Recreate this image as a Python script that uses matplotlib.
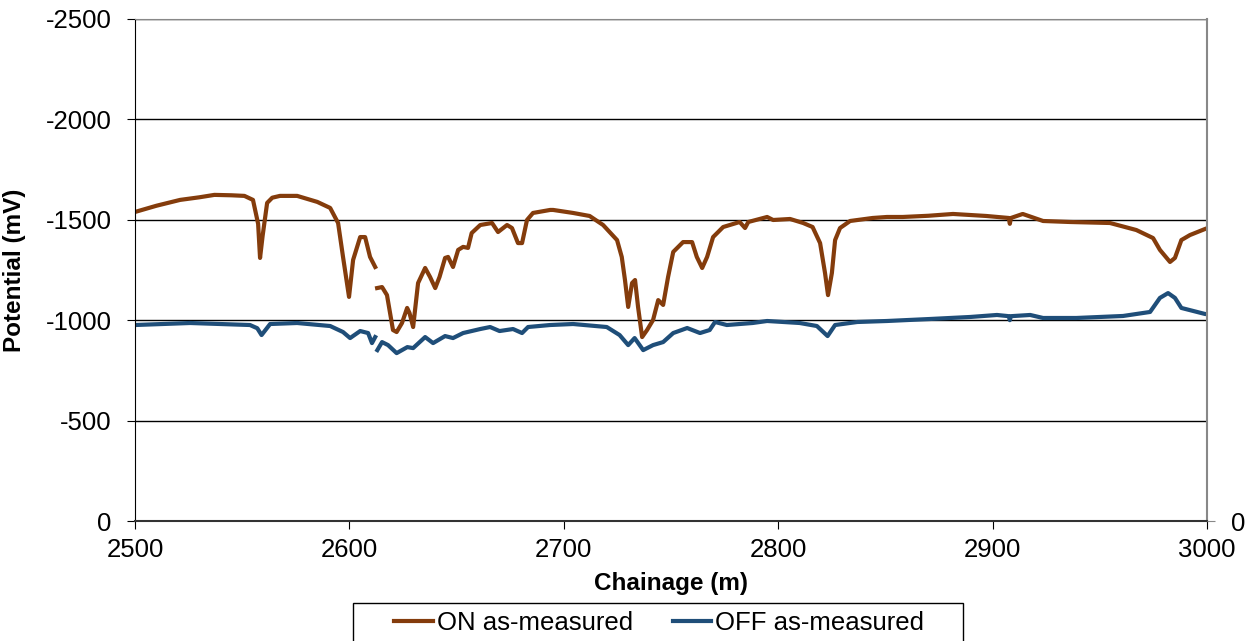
import numpy as np
import matplotlib.pyplot as plt
from matplotlib.patches import Rectangle

plt.rcParams['font.family'] = ['Liberation Sans', 'DejaVu Sans']
plt.rcParams['axes.unicode_minus'] = False

# ON as-measured (chainage m, potential mV); NaN marks the data gap
on_x = [2500, 2510, 2521, 2530, 2537, 2545, 2551, 2555, 2557.4, 2558.3, 2559.5, 2561.6, 2564,
        2567.6, 2575.6, 2585, 2591, 2594.7, 2597, 2599.8, 2601.7, 2605, 2607.3, 2609.6, 2612,
        2612.4,
        2612.9, 2615.2, 2617.5, 2620.3, 2622, 2624.5, 2626.9, 2628, 2629.7, 2632, 2635.3, 2637.6,
        2640, 2642, 2644.6, 2646, 2648.3, 2650.7, 2653, 2655.3, 2657, 2661, 2666.5, 2669.3,
        2673.5, 2675.8, 2678.6, 2680.5, 2682.8, 2685.6, 2693.6, 2695, 2704.3, 2712, 2718.3,
        2724.8, 2727, 2728.5, 2730, 2731.8, 2733.2, 2734.6, 2736.5, 2738.8, 2741.6, 2744,
        2746.3, 2748.6, 2751, 2755.6, 2759.8, 2762, 2764.5, 2766.8, 2769.6, 2774.3, 2782,
        2784.5, 2786, 2794.8, 2797.6, 2805.5, 2811.6, 2816, 2819.5, 2821.8, 2823.2, 2825,
        2826.5, 2828.8, 2833.5, 2844, 2850.7, 2858, 2870, 2881.5, 2897, 2907.5, 2908, 2908.5,
        2914, 2923.5, 2936, 2954.7, 2967, 2974.8, 2978, 2982.7, 2985, 2988, 2992, 2999, 3000]
on_y = [-1539, -1570, -1599, -1612, -1624, -1622, -1619, -1599, -1480, -1310, -1420, -1584, -1610,
        -1619, -1619, -1589, -1559, -1484, -1315, -1116, -1300, -1414, -1414, -1315, -1265,
        np.nan,
        -1160, -1165, -1125, -951, -941, -986, -1061, -1036, -966, -1185, -1260, -1215,
        -1160, -1215, -1310, -1315, -1265, -1350, -1365, -1360, -1434, -1474, -1484, -1439,
        -1474, -1459, -1384, -1384, -1499, -1534, -1549, -1549, -1534, -1519, -1474,
        -1399, -1315, -1200, -1066, -1185, -1200, -1066, -916, -951, -1001, -1100,
        -1076, -1215, -1340, -1389, -1389, -1315, -1260, -1315, -1414, -1464, -1489,
        -1459, -1489, -1514, -1499, -1504, -1484, -1464, -1384, -1235, -1125, -1235,
        -1399, -1459, -1494, -1509, -1514, -1514, -1520, -1529, -1519, -1509, -1480, -1509,
        -1529, -1494, -1489, -1484, -1449, -1409, -1350, -1290, -1310, -1399, -1424, -1454, -1458]

# OFF as-measured
off_x = [2500, 2525.7, 2553.6, 2557, 2559, 2563, 2575.6, 2591, 2597, 2600.3, 2605, 2608.7,
         2610.5, 2612, 2612.5,
         2613, 2615.2, 2618, 2622, 2627, 2629.7, 2635.3, 2639, 2644.6, 2648.3, 2653, 2661,
         2665.6, 2670, 2676.3, 2680.5, 2683.3, 2693.6, 2704.3, 2720, 2726, 2730, 2733, 2737,
         2741.6, 2746.3, 2751, 2757.5, 2763.5, 2768, 2770.5, 2776, 2788, 2794.8, 2810, 2818,
         2821, 2823, 2826.5, 2836.8, 2850.7, 2870.8, 2889.5, 2902, 2907.5, 2908, 2908.5,
         2917.5, 2923.5, 2939, 2960.8, 2973.4, 2978, 2981.8, 2985, 2988, 2999, 3000]
off_y = [-976, -986, -976, -960, -926, -981, -986, -971, -941, -911, -946, -936,
         -886, -916, np.nan,
         -851, -891, -876, -836, -866, -861, -916, -886, -921, -911, -936, -956,
         -966, -946, -956, -936, -966, -976, -981, -966, -926, -876, -911, -851,
         -876, -891, -936, -961, -936, -951, -991, -976, -986, -996, -986, -971,
         -941, -921, -976, -991, -996, -1006, -1016, -1026, -1020, -1000, -1020,
         -1026, -1011, -1011, -1021, -1041, -1111, -1135, -1111, -1061, -1031, -1030]

fs = 18.5

fig = plt.figure(figsize=(12.47, 6.41), dpi=100)
ax = fig.add_axes([0.1083, 0.1872, 0.8597, 0.7832])

ax.plot(on_x, on_y, color='#843C0C', lw=3, label='ON as-measured', solid_joinstyle='round')
ax.plot(off_x, off_y, color='#1F4E79', lw=3, label='OFF as-measured', solid_joinstyle='round')

ax.set_xlim(2500, 3000)
ax.set_ylim(0, -2500)
ax.set_xticks(np.arange(2500, 3001, 100))
ax.set_yticks(np.arange(0, -2501, -500))
ax.yaxis.grid(True, color='black', lw=1)
ax.set_axisbelow(True)

ax.spines['top'].set_color('#888888')
ax.spines['right'].set_color('#888888')
ax.spines['right'].set_linewidth(1.5)
ax.spines['bottom'].set_linewidth(1.5)
ax.spines['bottom'].set_color('#333333')
ax.tick_params(axis='both', direction='out', length=6, labelsize=fs, colors='black')
ax.tick_params(axis='x', pad=6)
ax.tick_params(axis='y', pad=11)

ax.set_xlabel('Chainage (m)', fontsize=17.5, fontweight='bold')
ax.set_ylabel('Potential (mV)', fontsize=17.5, fontweight='bold', va='center')
ax.xaxis.set_label_coords(0.5, -0.1016)
ax.yaxis.set_label_coords(-0.112, 0.5)

ax2 = ax.twinx()
ax2.set_ylim(0, -2500)
ax2.set_yticks([0])
ax2.set_yticklabels(['0'])
ax2.tick_params(axis='y', direction='out', length=6, labelsize=fs, color='#888888', pad=11)
for s in ax2.spines.values():
    s.set_visible(False)

# legend box drawn separately so it runs off the bottom edge like the original
fig.patches.append(Rectangle((353 / 1247, -0.05), (963 - 353) / 1247, 0.05 + 38.5 / 641,
                             transform=fig.transFigure, fill=False, edgecolor='black', lw=1))
fig.legend(loc='center', bbox_to_anchor=(0.5285, 0.028), ncol=2, fontsize=fs,
           frameon=False, handlelength=1.5, handletextpad=0.15, columnspacing=1.55,
           borderaxespad=0)

fig.savefig('out.png', dpi=100)
